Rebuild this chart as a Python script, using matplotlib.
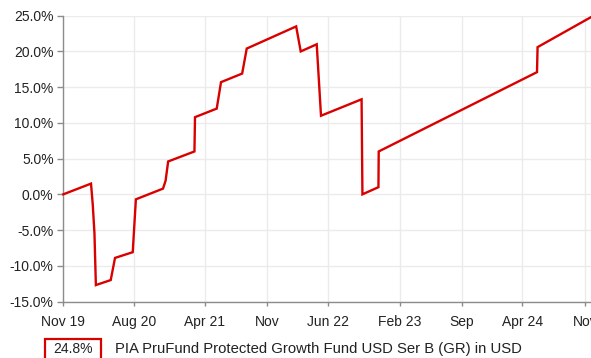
import matplotlib
matplotlib.use("Agg")
import matplotlib.pyplot as plt
import matplotlib.patches as patches
import pandas as pd

plt.rcParams['font.family'] = ['Liberation Sans', 'DejaVu Sans']

FUND_NAME = "PIA PruFund Protected Growth Fund USD Ser B (GR) in USD"
LINE_RED = "#d90000"
TEXT = "#222222"
AXIS_GREY = "#8c8c8c"
GRID = "#ebebeb"

# cumulative performance, % since start
dates = [
    "2019-11-29", "2020-03-05", "2020-03-11", "2020-03-17", "2020-03-22",
    "2020-05-13", "2020-05-28", "2020-07-29", "2020-08-09", "2020-11-12",
    "2020-11-21", "2020-11-30", "2021-03-02", "2021-03-04", "2021-05-19",
    "2021-06-03", "2021-08-16", "2021-09-01", "2022-02-21", "2022-03-09",
    "2022-05-04", "2022-05-19", "2022-10-08", "2022-10-11", "2022-12-06",
    "2022-12-07", "2024-06-13", "2024-06-15", "2024-12-19",
]
growth = [
    0.0, 1.5, -1.4, -5.4, -12.7,
    -12.0, -8.9, -8.1, -0.7, 0.8,
    1.9, 4.6, 6.0, 10.8, 12.0,
    15.7, 16.9, 20.4, 23.5, 20.0,
    21.0, 11.0, 13.3, 0.0, 1.0,
    6.0, 17.1, 20.6, 24.8,
]

tick_dates = ["2019-11-29", "2020-08-03", "2021-04-07", "2021-11-11", "2022-06-14",
              "2023-02-19", "2023-09-23", "2024-04-22", "2024-11-28"]
tick_labels = ["Nov 19", "Aug 20", "Apr 21", "Nov", "Jun 22",
               "Feb 23", "Sep", "Apr 24", "Nov"]
y_ticks = [-15, -10, -5, 0, 5, 10, 15, 20, 25]

x = pd.to_datetime(dates)
W, H = 591, 358

fig = plt.figure(figsize=(W / 100, H / 100), dpi=100)
ax = fig.add_axes([63.3 / W, (H - 301.5) / H, (W - 63.3) / W, (301.5 - 15.7) / H])

ax.plot(x, growth, color=LINE_RED, lw=1.7, solid_joinstyle="miter", zorder=3, clip_on=False)

ax.set_xlim(x[0], x[-1])
ax.set_ylim(-15, 25)
ax.set_yticks(y_ticks)
ax.set_yticklabels([f"{v:.1f}%" for v in y_ticks])
ax.set_xticks(pd.to_datetime(tick_dates))
ax.set_xticklabels(tick_labels)

ax.grid(True, color=GRID, lw=1.0, zorder=0)
for side in ("top", "right"):
    ax.spines[side].set_visible(False)
for side in ("left", "bottom"):
    ax.spines[side].set_color(AXIS_GREY)
    ax.spines[side].set_linewidth(1.0)

ax.tick_params(axis="y", length=4, width=1, color=AXIS_GREY, pad=3,
               labelsize=10, labelcolor=TEXT)
ax.tick_params(axis="x", length=3, width=1, color=AXIS_GREY, pad=6.5,
               labelsize=10, labelcolor=TEXT)

# legend strip under the chart
box = patches.Rectangle((44.5 / W, -5 / H), 56 / W, (H - 338.5 + 5) / H,
                        transform=fig.transFigure, fill=False,
                        edgecolor=LINE_RED, lw=1.6, clip_on=False)
fig.patches.append(box)
fig.text(72.5 / W, 1 - 349 / H, f"{growth[-1]:.1f}%", ha="center", va="center",
         fontsize=10, color=TEXT)
fig.text(115 / W, 1 - 349 / H, FUND_NAME, ha="left", va="center",
         fontsize=10.7, color=TEXT)

fig.savefig("out.png", dpi=100)
